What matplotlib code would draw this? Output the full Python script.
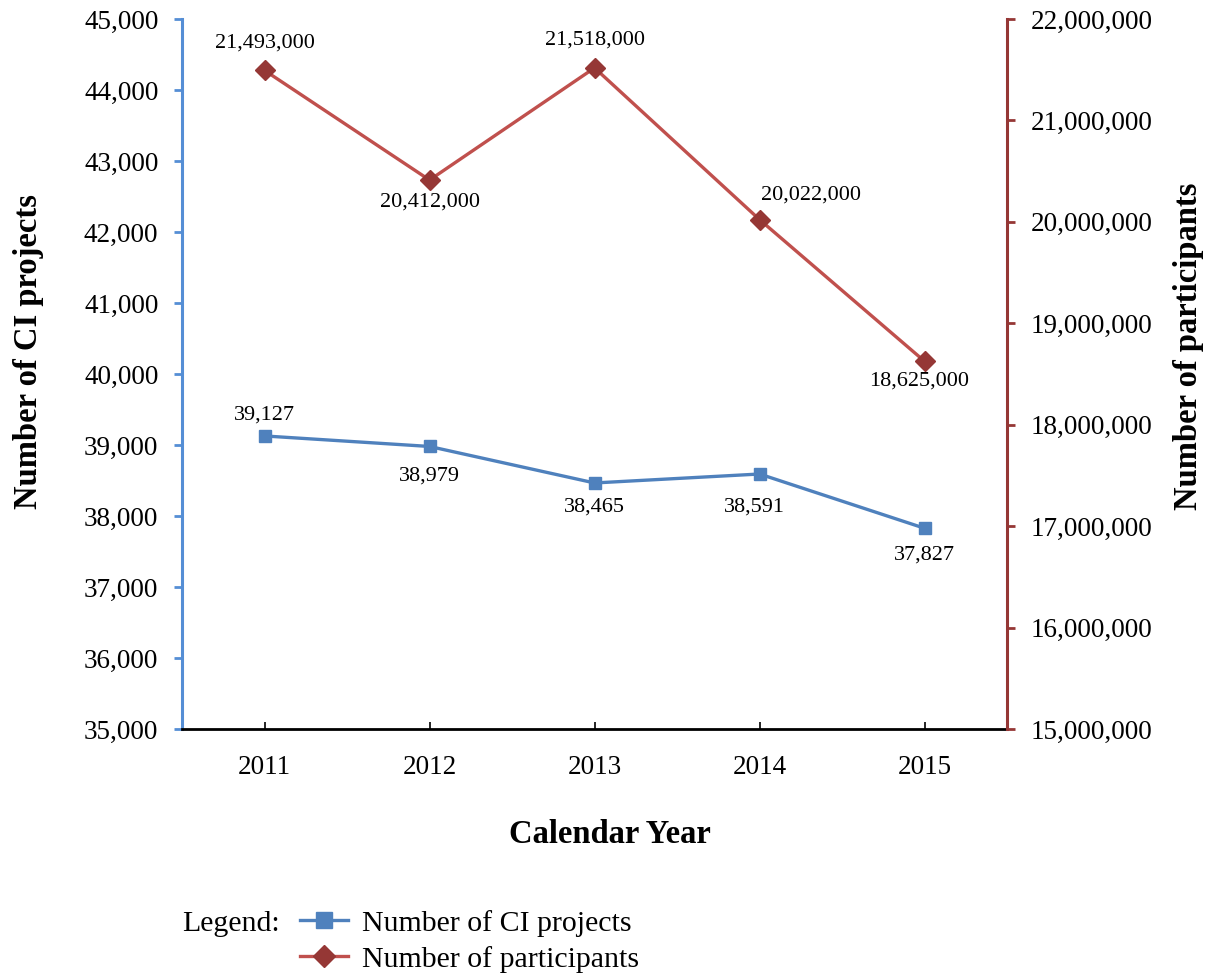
import matplotlib.pyplot as plt
from matplotlib.lines import Line2D
from matplotlib.ticker import FuncFormatter

plt.rcParams['font.family'] = ['Liberation Serif', 'DejaVu Serif']

years = [2011, 2012, 2013, 2014, 2015]
ci_projects = [39127, 38979, 38465, 38591, 37827]
participants = [21493000, 20412000, 21518000, 20022000, 18625000]

blue = '#4F81BD'
blue_spine = '#558ED5'
red = '#C0504D'
red_dark = '#953735'

fig = plt.figure(figsize=(12.12, 9.73), dpi=100)
ax = fig.add_axes([0.1502, 0.2508, 0.6807, 0.7297])
ax2 = ax.twinx()

ax.plot(years, ci_projects, color=blue, lw=2.4, marker='s', ms=9,
        mfc=blue, mec=blue, zorder=3)
ax2.plot(years, participants, color=red, lw=2.4, marker='D', ms=10,
         mfc=red_dark, mec=red_dark, zorder=3)

ax.set_xlim(2010.5, 2015.5)
ax.set_ylim(35000, 45000)
ax.set_yticks(range(35000, 45001, 1000))
ax2.set_ylim(15000000, 22000000)
ax2.set_yticks(range(15000000, 22000001, 1000000))
ax.set_xticks(years)

fmt = FuncFormatter(lambda v, p: f'{int(v):,}')
ax.yaxis.set_major_formatter(fmt)
ax2.yaxis.set_major_formatter(fmt)

for a in (ax, ax2):
    a.spines['top'].set_visible(False)
ax.spines['right'].set_visible(False)
ax2.spines['left'].set_visible(False)
ax2.spines['bottom'].set_visible(False)
ax.spines['left'].set_color(blue_spine)
ax.spines['left'].set_linewidth(2.2)
ax2.spines['right'].set_color(red_dark)
ax2.spines['right'].set_linewidth(2.2)
ax.spines['bottom'].set_linewidth(2.0)

ax.tick_params(axis='y', direction='out', length=6, width=2, color=blue_spine,
               labelsize=19.5, pad=11)
ax2.tick_params(axis='y', direction='out', length=6, width=2, color=red_dark,
                labelsize=19.5, pad=11)
ax.tick_params(axis='x', direction='in', length=5, width=1.2,
               labelsize=19.5, pad=19)

ax.set_xlabel('Calendar Year', fontsize=23.5, fontweight='bold', labelpad=28)
ax.set_ylabel('Number of CI projects', fontsize=23.5, fontweight='bold', labelpad=29)
ax2.set_ylabel('Number of participants', fontsize=23.5, fontweight='bold',
               labelpad=15, rotation=90)
ax.xaxis.label.set_x(0.519)
ax.yaxis.label.set_y(0.531)
ax2.yaxis.label.set_y(0.539)

# data labels
ci_offsets = [(0, 15), (0, -21), (0, -17), (-4, -24), (0, -19)]
part_offsets = [(0, 20), (0, -16), (0, 20), (37, 18), (-4, -14)]
for x, y, off in zip(years, ci_projects, ci_offsets):
    ax.annotate(f'{y:,}', (x, y), xytext=off, textcoords='offset points',
                ha='center', va='center', fontsize=16)
for x, y, off in zip(years, participants, part_offsets):
    ax2.annotate(f'{y:,}', (x, y), xytext=off, textcoords='offset points',
                 ha='center', va='center', fontsize=16)

# legend
fig.text(0.150, 0.050, 'Legend:', fontsize=21.5, va='center', ha='left')
handles = [
    Line2D([], [], color=blue, lw=2.4, marker='s', ms=11, mfc=blue, mec=blue),
    Line2D([], [], color=red, lw=2.4, marker='D', ms=11, mfc=red_dark, mec=red_dark),
]
fig.legend(handles, ['Number of CI projects', 'Number of participants'],
           loc='center left', bbox_to_anchor=(0.2475, 0.0325), frameon=False,
           fontsize=21.5, handlelength=1.6, handletextpad=0.47, labelspacing=0.3,
           borderaxespad=0, borderpad=0)

fig.savefig('out.png', dpi=100)
